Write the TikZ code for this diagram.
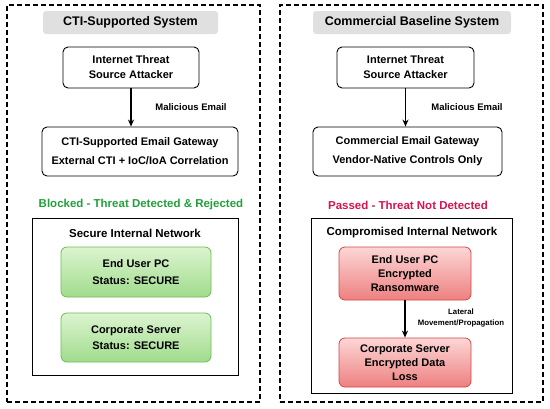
\documentclass[tikz,border=0pt]{standalone}
\usepackage{fontspec}
\setmainfont{Liberation Sans}
\usepackage{tikz}
\usetikzlibrary{arrows.meta, positioning}
\definecolor{okgreen}{RGB}{34, 160, 60}
\definecolor{badred}{RGB}{214, 20, 80}
\definecolor{titlegray}{RGB}{224, 224, 224}
\definecolor{greenedge}{RGB}{108, 190, 80}
\definecolor{greentop}{RGB}{220, 244, 208}
\definecolor{greenbot}{RGB}{160, 220, 140}
\definecolor{rededge}{RGB}{210, 70, 70}
\definecolor{redtop}{RGB}{252, 214, 214}
\definecolor{redbot}{RGB}{238, 128, 128}

\begin{document}
\begin{tikzpicture}[x=1pt, y=-1pt,
  panel/.style={draw, dashed, dash pattern=on 5pt off 3pt, line width=1.1pt,
    minimum width=#1, minimum height=397pt, inner sep=0pt},
  heading/.style={fill=titlegray, rounded corners=3pt, minimum height=23pt,
    font=\fontsize{12.5}{14}\selectfont\bfseries},
  plain/.style={draw, line width=0.9pt, rounded corners=5pt, align=center,
    font=\fontsize{11}{15}\selectfont\bfseries, inner sep=0pt},
  netbox/.style={draw, line width=0.9pt, inner sep=0pt},
  safe/.style={draw=greenedge, line width=0.8pt, rounded corners=6pt,
    top color=greentop, bottom color=greenbot, align=center,
    minimum width=150pt, font=\fontsize{11}{16.5}\selectfont\bfseries},
  hit/.style={draw=rededge, line width=0.8pt, rounded corners=6pt,
    top color=redtop, bottom color=redbot, align=center,
    minimum width=132pt, font=\fontsize{11}{14}\selectfont\bfseries},
  arrow/.style={-{Stealth[length=7pt, width=6pt]}, line width=1.3pt},
  note/.style={font=\fontsize{9.5}{11}\selectfont\bfseries, align=center},
  label/.style={font=\fontsize{11.5}{13}\selectfont\bfseries}
]
\useasboundingbox (0,0) rectangle (550,408);

% left side
\node[panel=253pt] (lpanel) at (133.5,203.5) {};
\node[heading, minimum width=175pt] (ltitle) at (130.5,22.5) {CTI-Supported System};
\node[plain, minimum width=136pt, minimum height=41pt] (latt) at (131,67.5) {Internet Threat\\Source Attacker};
\node[plain, minimum width=196pt, minimum height=49pt, font=\fontsize{11}{19}\selectfont\bfseries] (lgw) at (140,151.5) {CTI-Supported Email Gateway\\External CTI + IoC/IoA Correlation};
\draw[arrow] (latt.south) -- (latt.south |- lgw.north);
\node[note] (lmail) at (191,107) {Malicious Email};
\node[label, text=okgreen] (lstat) at (141,205) {Blocked - Threat Detected \& Rejected};
\node[netbox, minimum width=206pt, minimum height=157pt] (lnet) at (135,296.5) {};
\node[label] (lnetlbl) at (135,233) {Secure Internal Network};
\node[safe, minimum height=50pt] (lpc) at (136,272) {End User PC\\Status: SECURE};
\node[safe, minimum height=49pt] (lsrv) at (136,337.5) {Corporate Server\\Status: SECURE};

% right side
\node[panel=263pt] (rpanel) at (411.5,203.5) {};
\node[heading, minimum width=198pt] (rtitle) at (412,22.5) {Commercial Baseline System};
\node[plain, minimum width=137pt, minimum height=41pt] (ratt) at (405.5,67.5) {Internet Threat\\Source Attacker};
\node[plain, minimum width=189pt, minimum height=49pt, font=\fontsize{11}{19}\selectfont\bfseries] (rgw) at (407.5,151.5) {Commercial Email Gateway\\Vendor-Native Controls Only};
\draw[arrow] (ratt.south) -- (ratt.south |- rgw.north);
\node[note] (rmail) at (467,107) {Malicious Email};
\node[label, text=badred] (rstat) at (408,205) {Passed - Threat Not Detected};
\node[netbox, minimum width=201pt, minimum height=175pt] (rnet) at (411.5,305.5) {};
\node[label] (rnetlbl) at (412,233) {Compromised Internal Network};
\node[hit, minimum height=53pt] (rpc) at (405,273.5) {End User PC\\Encrypted\\Ransomware};
\node[hit, minimum height=49pt] (rsrv) at (405,362.5) {Corporate Server\\Encrypted Data\\Loss};
\draw[arrow] (rpc) -- (rsrv);
\node[note, font=\fontsize{7.8}{11}\selectfont\bfseries] (lateral) at (461,318) {Lateral\\Movement/Propagation};
\end{tikzpicture}
\end{document}
